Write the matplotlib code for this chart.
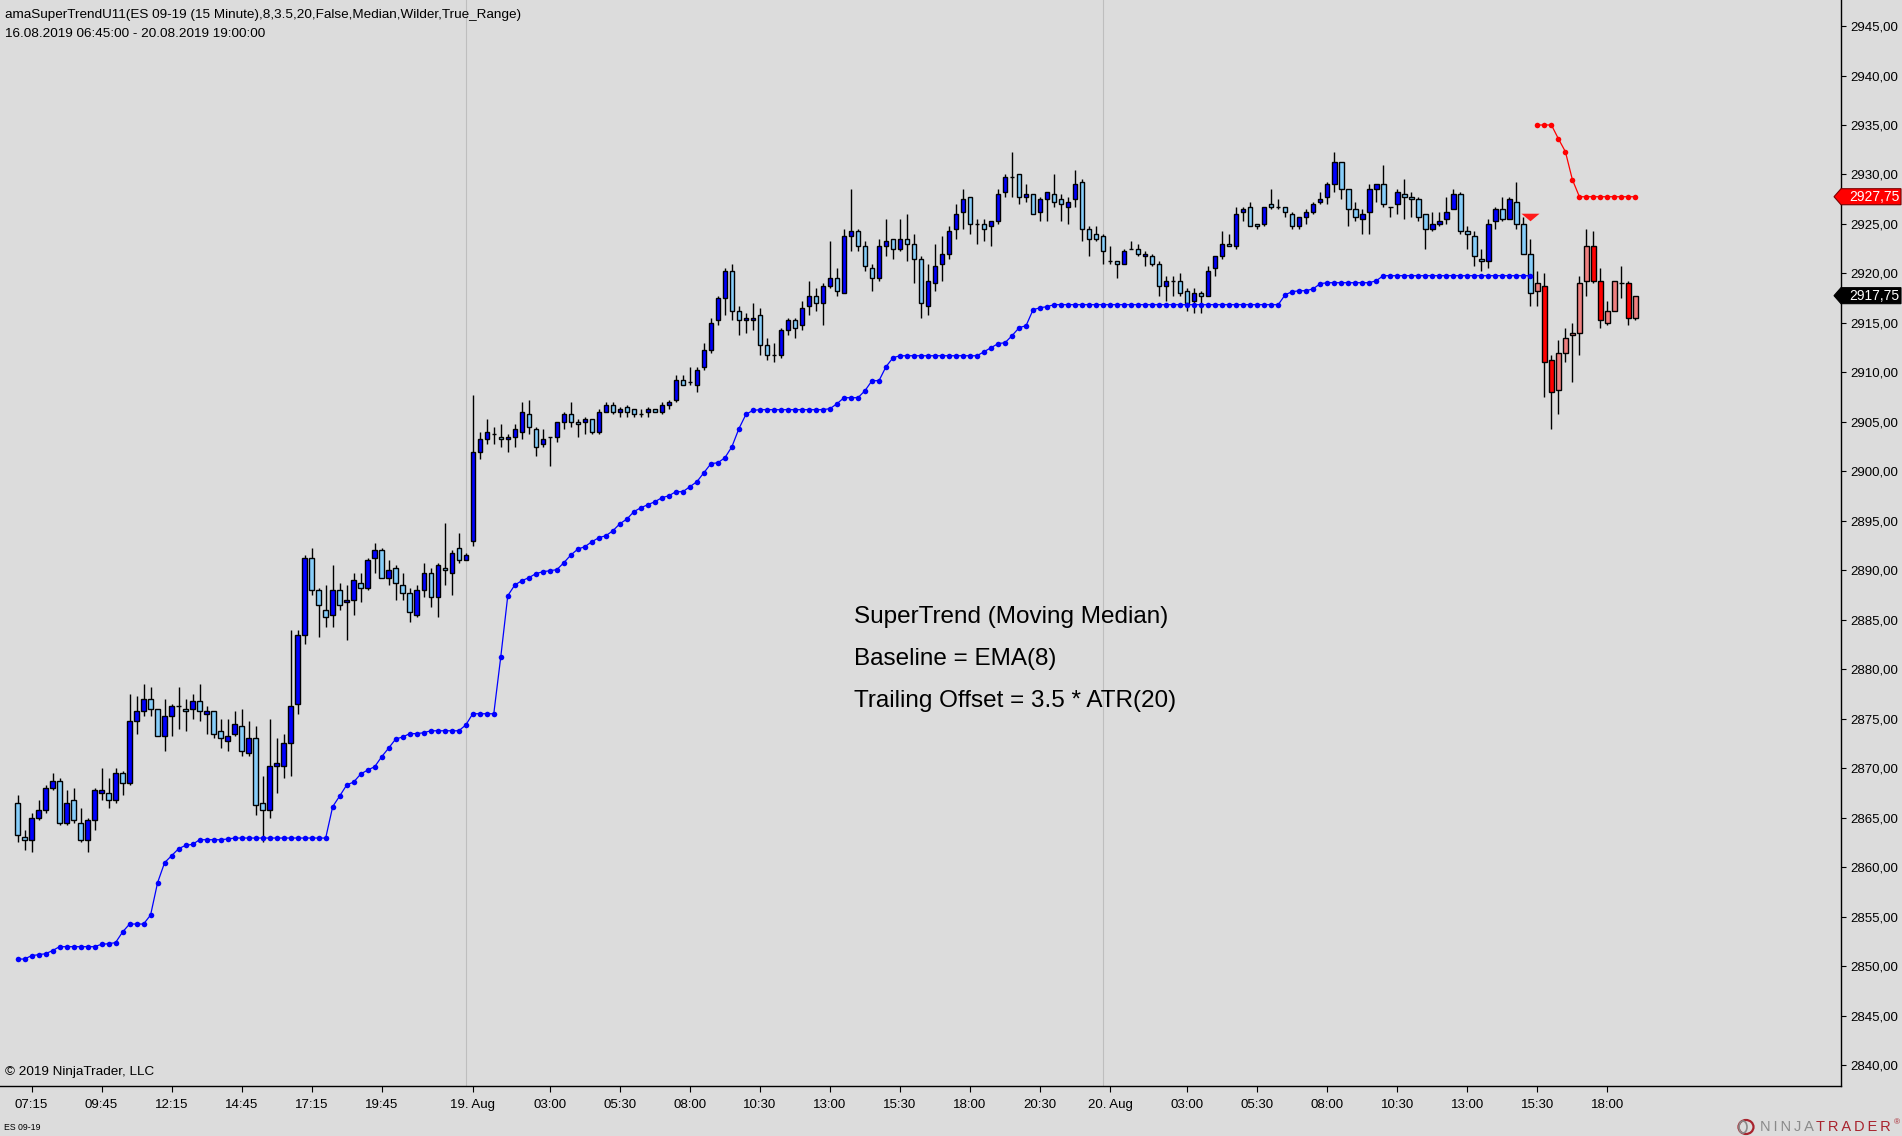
import numpy as np
import matplotlib
matplotlib.use("Agg")
import matplotlib.pyplot as plt
from matplotlib.path import Path
from matplotlib.patches import Polygon, Ellipse
from matplotlib.transforms import IdentityTransform

W, H = 1902, 1136
BG = '#DCDCDC'
plt.rcParams['font.family'] = ['Liberation Sans', 'DejaVu Sans']

# ---------------- data ----------------
opens = [
    2866.5, 2863.0, 2862.75, 2865.0, 2865.75, 2868.0, 2868.75, 2864.5, 2866.75, 2864.5,
    2862.75, 2864.75, 2867.5, 2867.5, 2866.75, 2869.5, 2868.5, 2874.75, 2875.75, 2877.0,
    2876.0, 2873.25, 2875.25, 2876.25, 2876.0, 2876.0, 2876.75, 2875.5, 2875.75, 2873.75,
    2872.75, 2873.5, 2874.25, 2871.5, 2873.0, 2866.5, 2865.75, 2870.25, 2870.25, 2872.5,
    2876.5, 2883.5, 2891.25, 2888.0, 2886.0, 2885.5, 2888.0, 2886.75, 2887.0, 2888.75,
    2888.25, 2891.25, 2892.0, 2889.25, 2890.25, 2888.5, 2887.75, 2885.5, 2888.0, 2889.75,
    2887.25, 2890.25, 2889.75, 2892.25, 2891.0, 2893.0, 2902.0, 2903.25, 2903.75, 2903.5,
    2903.25, 2903.5, 2904.0, 2905.75, 2904.25, 2902.75, 2903.5, 2903.5, 2905.0, 2905.75,
    2905.0, 2905.0, 2905.25, 2904.0, 2906.0, 2906.75, 2906.0, 2906.5, 2906.25, 2905.75,
    2906.0, 2906.25, 2906.0, 2906.75, 2907.25, 2909.25, 2909.0, 2908.75, 2910.5, 2912.25,
    2915.25, 2917.5, 2920.25, 2916.25, 2915.25, 2915.25, 2915.75, 2912.75, 2911.75, 2911.75,
    2914.25, 2915.25, 2914.75, 2916.75, 2917.75, 2917.0, 2918.75, 2919.5, 2918.0, 2923.75,
    2924.25, 2922.75, 2920.5, 2919.5, 2922.75, 2923.5, 2922.5, 2923.5, 2923.0, 2921.5,
    2916.75, 2919.0, 2921.0, 2922.0, 2924.5, 2926.25, 2927.75, 2925.0, 2925.0, 2924.75,
    2925.25, 2928.25, 2929.75, 2930.0, 2927.75, 2928.0, 2926.25, 2927.5, 2928.0, 2927.5,
    2926.75, 2927.5, 2929.25, 2924.5, 2924.0, 2923.75, 2921.25, 2921.25, 2921.0, 2922.5,
    2922.5, 2921.75, 2921.75, 2921.0, 2918.75, 2919.25, 2919.25, 2918.25, 2917.25, 2918.0,
    2917.75, 2920.5, 2921.75, 2923.0, 2922.75, 2926.25, 2926.75, 2925.0, 2925.0, 2927.0,
    2926.75, 2926.75, 2926.0, 2924.75, 2925.75, 2926.25, 2927.25, 2927.75, 2929.0, 2931.25,
    2928.5, 2926.5, 2925.5, 2926.25, 2928.5, 2929.0, 2926.75, 2927.0, 2928.0, 2927.75,
    2927.5, 2926.0, 2924.5, 2925.0, 2925.5, 2926.5, 2928.0, 2924.25, 2923.75, 2921.5,
    2921.25, 2925.25, 2926.5, 2925.5, 2927.25, 2925.0, 2922.0, 2918.25, 2918.75, 2911.25,
    2908.25, 2912.0, 2913.75, 2914.0, 2919.25, 2922.75, 2919.25, 2915.0, 2916.25, 2919.0,
    2919.0, 2915.5,
]
highs = [
    2867.25, 2863.75, 2865.5, 2866.75, 2868.25, 2869.5, 2869.0, 2867.75, 2868.0, 2866.0,
    2865.0, 2868.0, 2870.0, 2869.0, 2870.0, 2869.75, 2877.5, 2877.25, 2878.5, 2878.25,
    2876.0, 2877.0, 2876.5, 2878.25, 2877.0, 2877.5, 2878.5, 2876.25, 2875.75, 2875.0,
    2875.0, 2875.75, 2876.0, 2874.75, 2874.25, 2869.25, 2875.0, 2873.0, 2873.5, 2884.0,
    2884.0, 2891.5, 2892.25, 2888.25, 2888.5, 2890.5, 2888.75, 2888.5, 2889.75, 2889.75,
    2891.25, 2892.75, 2892.25, 2891.0, 2890.5, 2889.75, 2888.25, 2888.5, 2890.75, 2890.25,
    2890.75, 2894.75, 2892.0, 2893.75, 2891.75, 2907.75, 2904.0, 2905.25, 2904.5, 2904.75,
    2903.75, 2904.75, 2907.0, 2907.25, 2904.5, 2904.25, 2903.5, 2905.0, 2906.0, 2907.0,
    2905.25, 2905.5, 2905.25, 2906.25, 2907.0, 2907.0, 2906.5, 2906.75, 2906.25, 2906.25,
    2906.5, 2906.25, 2907.0, 2907.25, 2909.75, 2909.75, 2910.5, 2910.5, 2913.0, 2915.5,
    2917.75, 2920.5, 2921.0, 2916.75, 2916.0, 2917.0, 2916.5, 2913.5, 2913.0, 2914.5,
    2915.5, 2915.5, 2917.25, 2919.25, 2918.5, 2919.0, 2923.25, 2920.5, 2924.5, 2928.5,
    2924.5, 2923.25, 2921.0, 2923.5, 2925.5, 2923.5, 2925.5, 2926.0, 2924.0, 2921.75,
    2921.0, 2923.0, 2923.75, 2924.75, 2927.0, 2928.5, 2927.75, 2925.5, 2925.5, 2925.25,
    2928.5, 2930.0, 2932.25, 2930.0, 2929.0, 2928.0, 2927.75, 2928.25, 2930.0, 2928.0,
    2927.75, 2930.5, 2929.5, 2924.75, 2924.75, 2924.0, 2922.75, 2921.25, 2922.5, 2923.25,
    2923.0, 2922.25, 2922.0, 2921.25, 2919.75, 2919.75, 2920.0, 2918.5, 2918.5, 2918.25,
    2920.75, 2921.75, 2924.25, 2924.0, 2926.75, 2926.75, 2927.25, 2925.0, 2926.75, 2928.5,
    2927.5, 2926.75, 2926.25, 2925.75, 2926.5, 2927.25, 2928.25, 2929.25, 2932.25, 2931.25,
    2928.5, 2927.25, 2926.5, 2929.0, 2929.0, 2931.0, 2926.75, 2928.5, 2929.5, 2928.25,
    2927.75, 2926.0, 2926.25, 2926.25, 2927.75, 2928.5, 2928.25, 2924.75, 2924.25, 2922.5,
    2925.5, 2926.75, 2927.75, 2927.75, 2929.25, 2925.75, 2923.5, 2920.25, 2920.0, 2911.75,
    2913.25, 2914.5, 2915.0, 2919.75, 2924.5, 2924.25, 2920.5, 2917.25, 2919.25, 2920.75,
    2919.25, 2917.75,
]
lows = [
    2862.5, 2861.75, 2861.5, 2864.75, 2865.5, 2867.75, 2864.25, 2864.25, 2864.5, 2862.5,
    2861.5, 2863.75, 2866.75, 2866.0, 2866.5, 2867.25, 2868.25, 2873.5, 2875.25, 2875.25,
    2873.25, 2871.75, 2873.25, 2874.0, 2873.75, 2875.0, 2874.75, 2873.5, 2873.0, 2872.0,
    2871.75, 2873.25, 2871.25, 2871.25, 2865.25, 2862.5, 2865.0, 2867.5, 2869.0, 2869.25,
    2875.5, 2882.5, 2887.5, 2883.25, 2884.25, 2884.25, 2886.0, 2883.0, 2885.5, 2886.75,
    2888.0, 2889.75, 2889.25, 2888.5, 2887.0, 2887.0, 2884.75, 2885.25, 2887.25, 2886.25,
    2885.25, 2888.5, 2887.5, 2890.75, 2891.0, 2892.5, 2901.25, 2902.75, 2902.75, 2902.5,
    2902.0, 2902.5, 2903.25, 2903.75, 2901.5, 2902.5, 2900.5, 2903.0, 2904.25, 2904.5,
    2903.5, 2903.75, 2903.75, 2903.75, 2906.0, 2905.75, 2905.5, 2905.5, 2905.5, 2905.5,
    2905.5, 2906.0, 2905.75, 2906.25, 2907.0, 2908.75, 2908.75, 2908.0, 2910.25, 2912.0,
    2914.75, 2915.75, 2915.25, 2913.75, 2914.0, 2914.25, 2911.75, 2911.25, 2911.0, 2911.5,
    2913.75, 2913.5, 2914.25, 2915.75, 2916.25, 2914.75, 2918.5, 2917.75, 2918.0, 2922.25,
    2922.25, 2920.25, 2918.25, 2919.25, 2921.75, 2921.5, 2922.25, 2921.25, 2919.0, 2915.5,
    2915.75, 2918.25, 2919.25, 2921.5, 2923.5, 2924.5, 2924.0, 2923.0, 2923.25, 2922.75,
    2925.0, 2927.75, 2927.75, 2927.0, 2927.25, 2926.0, 2925.25, 2925.25, 2926.75, 2925.25,
    2925.0, 2926.75, 2923.25, 2921.75, 2923.25, 2921.0, 2921.0, 2919.5, 2921.0, 2922.5,
    2921.75, 2920.75, 2920.75, 2917.75, 2917.25, 2917.75, 2917.75, 2916.25, 2916.0, 2916.0,
    2917.75, 2919.75, 2921.5, 2922.75, 2922.5, 2925.25, 2924.75, 2924.5, 2924.75, 2926.5,
    2926.5, 2925.75, 2924.5, 2924.5, 2925.0, 2926.0, 2927.0, 2927.0, 2928.25, 2927.5,
    2924.75, 2925.25, 2924.0, 2924.0, 2927.25, 2926.75, 2925.75, 2926.0, 2925.5, 2925.75,
    2925.25, 2922.5, 2924.25, 2924.75, 2925.0, 2926.5, 2924.0, 2922.5, 2920.75, 2920.25,
    2920.5, 2924.5, 2925.25, 2925.5, 2924.5, 2922.0, 2916.75, 2916.75, 2907.5, 2904.25,
    2905.75, 2911.0, 2909.0, 2911.75, 2917.75, 2919.0, 2914.5, 2914.75, 2916.25, 2917.5,
    2914.75, 2915.25,
]
closes = [
    2863.25, 2862.75, 2865.0, 2865.75, 2868.0, 2868.75, 2864.5, 2866.5, 2864.75, 2862.75,
    2864.75, 2867.75, 2867.75, 2866.75, 2869.5, 2868.5, 2874.75, 2875.75, 2877.0, 2876.0,
    2873.25, 2875.25, 2876.25, 2876.25, 2875.75, 2876.75, 2875.75, 2875.75, 2873.5, 2873.0,
    2873.25, 2874.5, 2871.75, 2873.0, 2866.25, 2865.75, 2870.25, 2870.5, 2872.5, 2876.25,
    2883.5, 2891.25, 2888.0, 2886.5, 2885.25, 2888.0, 2886.5, 2887.0, 2889.0, 2888.25,
    2891.0, 2892.0, 2889.25, 2890.0, 2888.75, 2887.75, 2885.75, 2888.0, 2889.75, 2887.25,
    2890.5, 2890.0, 2891.75, 2891.0, 2891.5, 2902.0, 2903.25, 2904.0, 2903.75, 2903.25,
    2903.5, 2904.25, 2906.0, 2904.5, 2902.5, 2903.25, 2903.5, 2905.0, 2905.75, 2905.0,
    2904.75, 2905.25, 2904.0, 2906.0, 2906.75, 2906.0, 2906.25, 2906.0, 2905.75, 2905.75,
    2906.25, 2906.0, 2906.75, 2907.0, 2909.25, 2908.75, 2909.0, 2910.25, 2912.25, 2915.0,
    2917.5, 2920.25, 2916.25, 2915.25, 2915.5, 2915.5, 2912.75, 2911.75, 2911.75, 2914.25,
    2915.25, 2914.5, 2916.5, 2917.75, 2917.0, 2918.75, 2919.5, 2918.25, 2923.75, 2924.25,
    2922.75, 2920.75, 2919.5, 2922.75, 2923.25, 2922.5, 2923.5, 2923.0, 2921.5, 2917.0,
    2919.25, 2920.75, 2922.0, 2924.25, 2926.0, 2927.5, 2925.0, 2925.0, 2924.5, 2925.25,
    2928.0, 2929.75, 2929.75, 2927.75, 2928.0, 2926.0, 2927.5, 2928.25, 2927.25, 2927.0,
    2927.25, 2929.0, 2924.5, 2923.5, 2923.5, 2922.25, 2921.25, 2921.0, 2922.25, 2922.5,
    2922.0, 2922.0, 2921.0, 2918.75, 2919.25, 2919.25, 2918.0, 2917.0, 2918.0, 2917.75,
    2920.25, 2921.75, 2923.0, 2922.75, 2926.0, 2926.5, 2924.75, 2924.75, 2926.75, 2926.75,
    2926.75, 2926.25, 2924.75, 2925.75, 2926.25, 2927.0, 2927.5, 2929.0, 2931.25, 2928.5,
    2926.5, 2925.75, 2926.0, 2928.5, 2929.0, 2927.0, 2926.75, 2928.25, 2927.75, 2927.5,
    2925.75, 2924.5, 2925.0, 2925.25, 2926.25, 2928.0, 2924.25, 2924.0, 2921.75, 2921.25,
    2925.0, 2926.5, 2925.5, 2927.5, 2925.0, 2922.0, 2918.0, 2919.0, 2911.0, 2908.0,
    2912.0, 2913.5, 2914.0, 2919.0, 2922.75, 2919.25, 2915.25, 2916.25, 2919.25, 2919.0,
    2915.5, 2917.75,
]

# SuperTrend trailing stop, uptrend (bars 0..216) and downtrend (bars 217..231)
supertrend_up = [
    2850.71, 2850.71, 2851.05, 2851.15, 2851.25, 2851.56, 2851.96, 2851.96, 2851.96, 2851.96,
    2851.96, 2851.96, 2852.20, 2852.26, 2852.37, 2853.44, 2854.25, 2854.25, 2854.25, 2855.16,
    2858.43, 2860.45, 2861.16, 2861.86, 2862.20, 2862.30, 2862.77, 2862.77, 2862.77, 2862.77,
    2862.84, 2862.94, 2862.94, 2862.94, 2862.94, 2862.94, 2862.94, 2862.94, 2862.94, 2862.94,
    2862.94, 2862.94, 2862.94, 2862.94, 2862.94, 2866.11, 2867.19, 2868.30, 2868.60, 2869.41,
    2869.81, 2870.15, 2871.16, 2872.04, 2872.95, 2873.15, 2873.49, 2873.49, 2873.58, 2873.78,
    2873.78, 2873.78, 2873.78, 2873.78, 2874.36, 2875.50, 2875.50, 2875.50, 2875.50, 2881.26,
    2887.43, 2888.51, 2888.94, 2889.25, 2889.65, 2889.85, 2889.95, 2890.06, 2890.76, 2891.54,
    2892.14, 2892.38, 2892.88, 2893.29, 2893.49, 2893.99, 2894.70, 2895.17, 2895.92, 2896.32,
    2896.62, 2896.93, 2897.33, 2897.53, 2897.94, 2897.94, 2898.44, 2898.95, 2899.86, 2900.77,
    2900.87, 2901.37, 2902.49, 2904.31, 2905.75, 2906.16, 2906.23, 2906.23, 2906.23, 2906.23,
    2906.23, 2906.23, 2906.23, 2906.23, 2906.23, 2906.23, 2906.33, 2906.83, 2907.44, 2907.44,
    2907.44, 2908.15, 2909.16, 2909.16, 2910.57, 2911.48, 2911.68, 2911.68, 2911.68, 2911.68,
    2911.68, 2911.68, 2911.68, 2911.68, 2911.68, 2911.68, 2911.68, 2911.68, 2912.09, 2912.49,
    2912.90, 2913.00, 2913.71, 2914.51, 2914.72, 2916.33, 2916.53, 2916.64, 2916.84, 2916.84,
    2916.84, 2916.84, 2916.84, 2916.84, 2916.84, 2916.84, 2916.84, 2916.84, 2916.84, 2916.84,
    2916.84, 2916.84, 2916.84, 2916.84, 2916.84, 2916.84, 2916.84, 2916.84, 2916.84, 2916.84,
    2916.84, 2916.84, 2916.84, 2916.84, 2916.84, 2916.84, 2916.84, 2916.84, 2916.84, 2916.84,
    2916.84, 2917.85, 2918.15, 2918.25, 2918.25, 2918.45, 2918.96, 2919.06, 2919.06, 2919.06,
    2919.06, 2919.06, 2919.06, 2919.06, 2919.26, 2919.77, 2919.77, 2919.77, 2919.77, 2919.77,
    2919.77, 2919.77, 2919.77, 2919.77, 2919.77, 2919.77, 2919.77, 2919.77, 2919.77, 2919.77,
    2919.77, 2919.77, 2919.77, 2919.77, 2919.77, 2919.77, 2919.77,
]
supertrend_down = [
    2935.0, 2935.0, 2935.0, 2933.61, 2932.3, 2929.47, 2927.75, 2927.75, 2927.75, 2927.75,
    2927.75, 2927.75, 2927.75, 2927.75, 2927.75,
]

signal_bar = 216
signal_price = 2925.75

tick_bars = [2, 12, 22, 32, 42, 52, 65, 76, 86, 96, 106, 116, 126, 136, 146,
             156, 167, 177, 187, 197, 207, 217, 227]
tick_labels = ['07:15', '09:45', '12:15', '14:45', '17:15', '19:45', '19. Aug',
               '03:00', '05:30', '08:00', '10:30', '13:00', '15:30', '18:00', '20:30',
               '20. Aug', '03:00', '05:30', '08:00', '10:30', '13:00', '15:30', '18:00']
session_breaks = [64, 155]
price_ticks = [2840, 2845, 2850, 2855, 2860, 2865, 2870, 2875, 2880, 2885, 2890,
               2895, 2900, 2905, 2910, 2915, 2920, 2925, 2930, 2935, 2940, 2945]

title_line = "amaSuperTrendU11(ES 09-19 (15 Minute),8,3.5,20,False,Median,Wilder,True_Range)"
range_line = "16.08.2019 06:45:00 - 20.08.2019 19:00:00"
notes = ["SuperTrend (Moving Median)", "Baseline = EMA(8)", "Trailing Offset = 3.5 * ATR(20)"]

# ---------------- figure ----------------
fig = plt.figure(figsize=(W / 100, H / 100), dpi=100, facecolor=BG)
AX_RIGHT = 1841
AX_BOTTOM = 1086
ax = fig.add_axes([0, 1 - AX_BOTTOM / H, AX_RIGHT / W, AX_BOTTOM / H])
ax.set_facecolor(BG)
ax.set_xlim(-2.5, 260.35)
ax.set_ylim(2837.88, 2947.63)

for s in ['top', 'left']:
    ax.spines[s].set_visible(False)
for s in ['right', 'bottom']:
    ax.spines[s].set_color('black')
    ax.spines[s].set_linewidth(1.0)

o = np.array(opens)
h = np.array(highs)
l = np.array(lows)
c = np.array(closes)
n = len(o)
x = np.arange(n)
n_up = len(supertrend_up)
in_up = x < n_up
bull = c >= o
colors = np.where(in_up, np.where(bull, '#0000FF', '#87CEFA'),
                  np.where(bull, '#F08080', '#FF0000'))

for b in session_breaks:
    ax.axvline(b, color='#BEBEBE', lw=0.8, zorder=1)

ax.vlines(x, l, h, color='black', lw=1.0, zorder=2)
ax.bar(x, np.abs(c - o), bottom=np.minimum(o, c), width=0.64, color=colors,
       edgecolor='black', linewidth=1.0, zorder=3)

ax.plot(x[:n_up], supertrend_up, color='#0000FF', lw=0.9, marker='o', ms=4.0,
        mew=0, zorder=4)
ax.plot(x[n_up:], supertrend_down, color='#FF0000', lw=0.9, marker='o', ms=4.0,
        mew=0, zorder=4)

tri = Path([(-1, 0.42), (1, 0.42), (0, -0.42), (-1, 0.42)],
           [Path.MOVETO, Path.LINETO, Path.LINETO, Path.CLOSEPOLY])
ax.plot([signal_bar], [signal_price], marker=tri, ms=13, color='#FF1A1A', mew=0,
        ls='none', zorder=5)

# ticks
ax.set_xticks(tick_bars)
ax.set_xticklabels(tick_labels)
ax.tick_params(axis='x', direction='out', length=4.5, width=0.8, pad=5,
               labelsize=9.5, colors='black')
ax.yaxis.tick_right()
ax.set_yticks(price_ticks)
ax.set_yticklabels([f"{v:.2f}".replace('.', ',') for v in price_ticks])
ax.tick_params(axis='y', direction='out', length=3.8, width=0.8, pad=3.2,
               labelsize=9.5, colors='black')


def fpos(px, py):
    return px / W, 1 - py / H


fig.text(*fpos(5, 15), title_line, fontsize=9.7, va='center', ha='left')
fig.text(*fpos(5, 34), range_line, fontsize=9.7, va='center', ha='left')
fig.text(*fpos(5, 1072), "\u00a9 2019 NinjaTrader, LLC", fontsize=9.7, va='center', ha='left')
fig.text(*fpos(4, 1127), "ES 09-19", fontsize=6.3, va='center', ha='left')

for k, t in enumerate(notes):
    fig.text(*fpos(854, 616.5 + 42.5 * k), t, fontsize=17.5, va='center', ha='left')

# price markers on the axis
def price_flag(price, fc, ec):
    yd = ax.transData.transform((0, price))[1]
    hh = 8
    poly = Polygon([[1834, yd], [AX_RIGHT, yd + hh], [1901, yd + hh],
                    [1901, yd - hh], [AX_RIGHT, yd - hh]], closed=True,
                   transform=IdentityTransform(), facecolor=fc, edgecolor=ec,
                   lw=0.8, zorder=10)
    fig.add_artist(poly)
    fig.text(1849, yd, f"{price:.2f}".replace('.', ','), transform=IdentityTransform(),
             color='white', fontsize=10, va='center', ha='left', zorder=11)


price_flag(supertrend_down[-1], '#FF0000', '#7A0000')
price_flag(closes[-1], '#000000', '#000000')

# NinjaTrader logo
th = '\u2009'
fig.text(*fpos(1760, 1127), th.join("NINJA"), color='#8A8A8A', fontsize=10.5,
         va='center', ha='left')
fig.text(*fpos(1816, 1127), th.join("TRADER"), color='#A8232D', fontsize=10.5,
         va='center', ha='left')
fig.text(*fpos(1894, 1123), "\u00ae", color='#A8232D', fontsize=6, va='center', ha='left')
logo = Ellipse(fpos(1746, 1127), 15 / W, 14 / H, transform=fig.transFigure,
               facecolor='none', edgecolor='#A8232D', lw=1.6)
fig.add_artist(logo)
logo2 = Ellipse(fpos(1743, 1127), 8 / W, 12 / H, transform=fig.transFigure,
                facecolor='none', edgecolor='#8A8A8A', lw=1.2)
fig.add_artist(logo2)

fig.savefig("out.png", dpi=100, facecolor=BG)
